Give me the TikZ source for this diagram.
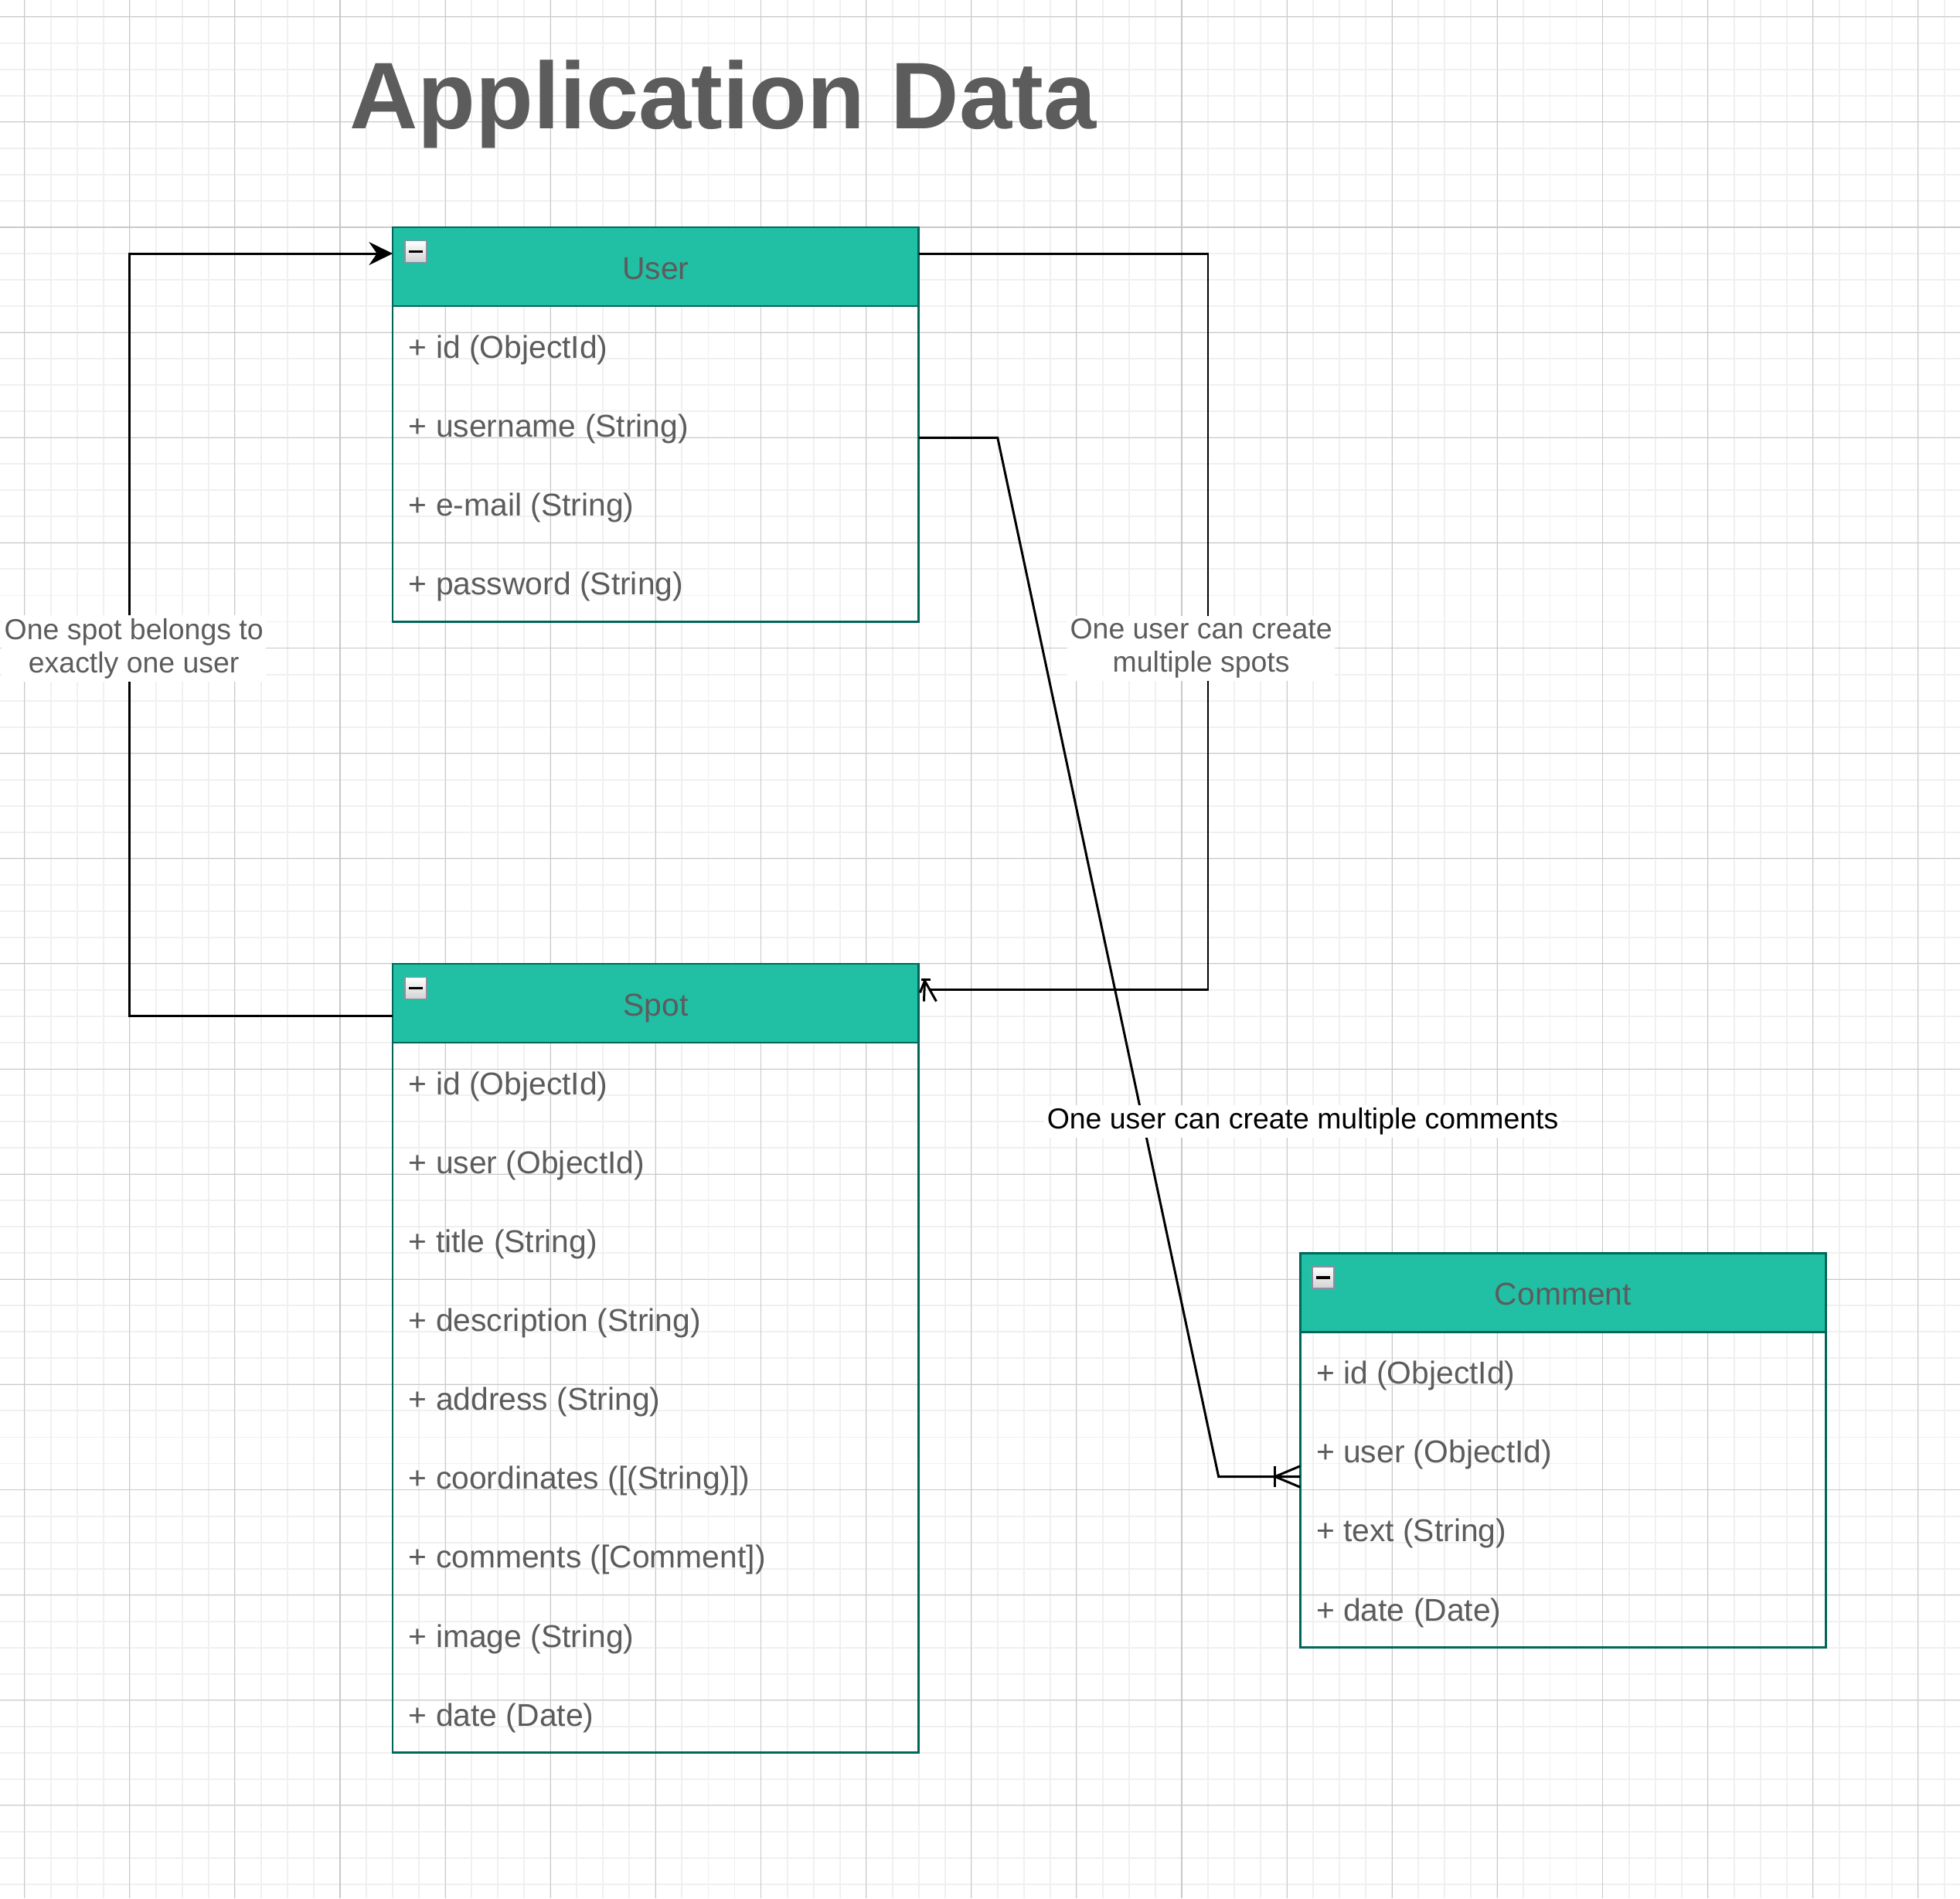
\documentclass[tikz,border=0pt]{standalone}
\usepackage{fontspec}
\setmainfont{Liberation Sans}
\usetikzlibrary{arrows.meta, calc}

\definecolor{tealfill}{HTML}{21C0A5}
\definecolor{tealline}{HTML}{006658}
\definecolor{textgray}{HTML}{5C5C5C}
\definecolor{gridminor}{HTML}{F0F0F0}
\definecolor{gridmajor}{HTML}{C8C8C8}
\definecolor{togglegray}{HTML}{8E8EA2}

\newcommand{\tblfont}{\fontsize{17.07}{20.5}\selectfont}
\newcommand{\lblfont}{\fontsize{15.65}{18.35}\selectfont}
\newcommand{\ttlfont}{\fontsize{51.2}{61}\selectfont\bfseries}

\begin{document}
\begin{tikzpicture}[x=0.05cm, y=-0.05cm]

\tikzset{entity/.style = {draw=tealline, line width=1.15pt, minimum width=10cm, anchor=north west, inner sep=0pt, outer sep=0pt}}
\tikzset{entityhead/.style = {entity, fill=tealfill, minimum height=1.5cm, text=textgray, font=\tblfont, text height=4.9mm, text depth=0pt}}
\tikzset{attr/.style = {anchor=west, inner sep=0pt, text=textgray, font=\tblfont, text height=4.3mm, text depth=0pt}}
\tikzset{togglebox/.style = {draw=togglegray, line width=0.6pt, top color=white, bottom color=gray!35, minimum size=4.1mm, inner sep=0pt, anchor=north west}}
\tikzset{togglebar/.style = {draw=black, line width=0.5mm}}
\tikzset{link/.style = {draw=black, line width=1.25pt}}
\tikzset{edgelabel/.style = {fill=white, inner sep=0.5mm, align=center, text=textgray, font=\lblfont}}

\useasboundingbox (-149.3,-86.4) rectangle (595.9,635.3);
%grid
\fill[white] (-149.3,-86.4) rectangle (595.9,635.3);
\foreach \gx in {-140,-130,...,590} \draw[gridminor, line width=0.8pt] (\gx,-86.4) -- (\gx,635.3);
\foreach \gy in {-80,-70,...,630} \draw[gridminor, line width=0.8pt] (-149.3,\gy) -- (595.9,\gy);
\foreach \gx in {-140,-100,...,580} \draw[gridmajor, line width=0.45pt] (\gx,-86.4) -- (\gx,635.3);
\foreach \gy in {-80,-40,...,600} \draw[gridmajor, line width=0.45pt] (-149.3,\gy) -- (595.9,\gy);

\node[anchor=base west, inner sep=0pt, text=textgray, font=\ttlfont] (title) at (-16.6,-37.4) {Application Data};

%user
\node[entity, minimum height=7.5cm] (user) at (0,0) {};
\node[entityhead] (user-head) at (0,0) {User};
\node[togglebox] (user-toggle) at ([xshift=0.225cm, yshift=-0.25cm]user-head.north west) {};
\draw[togglebar] ([xshift=-1.35mm]user-toggle.center) -- ([xshift=1.35mm]user-toggle.center);
\node[attr] (user-id) at (6,45.5) {+ id (ObjectId)};
\node[attr] (user-name) at (6,75.5) {+ username (String)};
\node[attr] (user-mail) at (6,105.5) {+ e-mail (String)};
\node[attr] (user-pass) at (6,135.5) {+ password (String)};

%spot
\node[entity, minimum height=15cm] (spot) at (0,280) {};
\node[entityhead] (spot-head) at (0,280) {Spot};
\node[togglebox] (spot-toggle) at ([xshift=0.225cm, yshift=-0.25cm]spot-head.north west) {};
\draw[togglebar] ([xshift=-1.35mm]spot-toggle.center) -- ([xshift=1.35mm]spot-toggle.center);
\node[attr] (spot-id) at (6,325.5) {+ id (ObjectId)};
\node[attr] (spot-user) at (6,355.5) {+ user (ObjectId)};
\node[attr] (spot-title) at (6,385.5) {+ title (String)};
\node[attr] (spot-desc) at (6,415.5) {+ description (String)};
\node[attr] (spot-addr) at (6,445.5) {+ address (String)};
\node[attr] (spot-coord) at (6,475.5) {+ coordinates ([(String)])};
\node[attr] (spot-comments) at (6,505.5) {+ comments ([Comment])};
\node[attr] (spot-image) at (6,535.5) {+ image (String)};
\node[attr] (spot-date) at (6,565.5) {+ date (Date)};

%comment
\node[entity, minimum height=7.5cm] (comment) at (345,390) {};
\node[entityhead] (comment-head) at (345,390) {Comment};
\node[togglebox] (comment-toggle) at ([xshift=0.225cm, yshift=-0.25cm]comment-head.north west) {};
\draw[togglebar] ([xshift=-1.35mm]comment-toggle.center) -- ([xshift=1.35mm]comment-toggle.center);
\node[attr] (comment-id) at (351,435.5) {+ id (ObjectId)};
\node[attr] (comment-user) at (351,465.5) {+ user (ObjectId)};
\node[attr] (comment-text) at (351,495.5) {+ text (String)};
\node[attr] (comment-date) at (351,525.5) {+ date (Date)};

%relations
\draw[link, -{Stealth[length=4.5mm, width=4.4mm, inset=1.5mm]}] ([yshift=-1cm]spot.north west) -| node[edgelabel, pos=0.741, xshift=0.08cm] (belongs-label) {One spot belongs to\\exactly one user} ([xshift=-5cm, yshift=-0.5cm]user.north west) -- ([yshift=-0.5cm]user.north west);

\draw[link, shorten >=0.2cm] ([yshift=-0.5cm]user.north east) -| node[edgelabel, pos=0.768, xshift=-0.13cm] (spots-label) {One user can create\\multiple spots} ([xshift=5.5cm, yshift=-0.5cm]spot.north east) -- ([yshift=-0.5cm]spot.north east);
\coordinate (spot-in) at ([yshift=-0.5cm]spot.north east);
\draw[link] ($(spot-in)+(1,-4)$) -- ($(spot-in)+(4.5,-4)$);
\draw[link] ($(spot-in)+(0.5,1)$) -- ($(spot-in)+(2.3,-3.5)$) -- ($(spot-in)+(6.7,4.3)$);
\draw[link] ($(spot-in)+(2.3,-3.5)$) -- ($(spot-in)+(2,4.3)$);

\draw[link] ([yshift=-4cm]user.north east) -- ([xshift=1.5cm, yshift=-4cm]user.north east) -- ([xshift=-1.55cm, yshift=-4.25cm]comment.north west) -- ([yshift=-4.25cm]comment.north west);
\coordinate (comment-in) at ([yshift=-4.25cm]comment.north west);
\draw[link] ($(comment-in)+(-9.7,-4)$) -- ($(comment-in)+(-9.7,4)$);
\draw[link] ($(comment-in)+(0,-4)$) -- ($(comment-in)+(-9.5,0)$) -- ($(comment-in)+(0,4)$);
\node[edgelabel, text=black] (comments-label) at (346,340) {One user can create multiple comments};

\end{tikzpicture}
\end{document}
